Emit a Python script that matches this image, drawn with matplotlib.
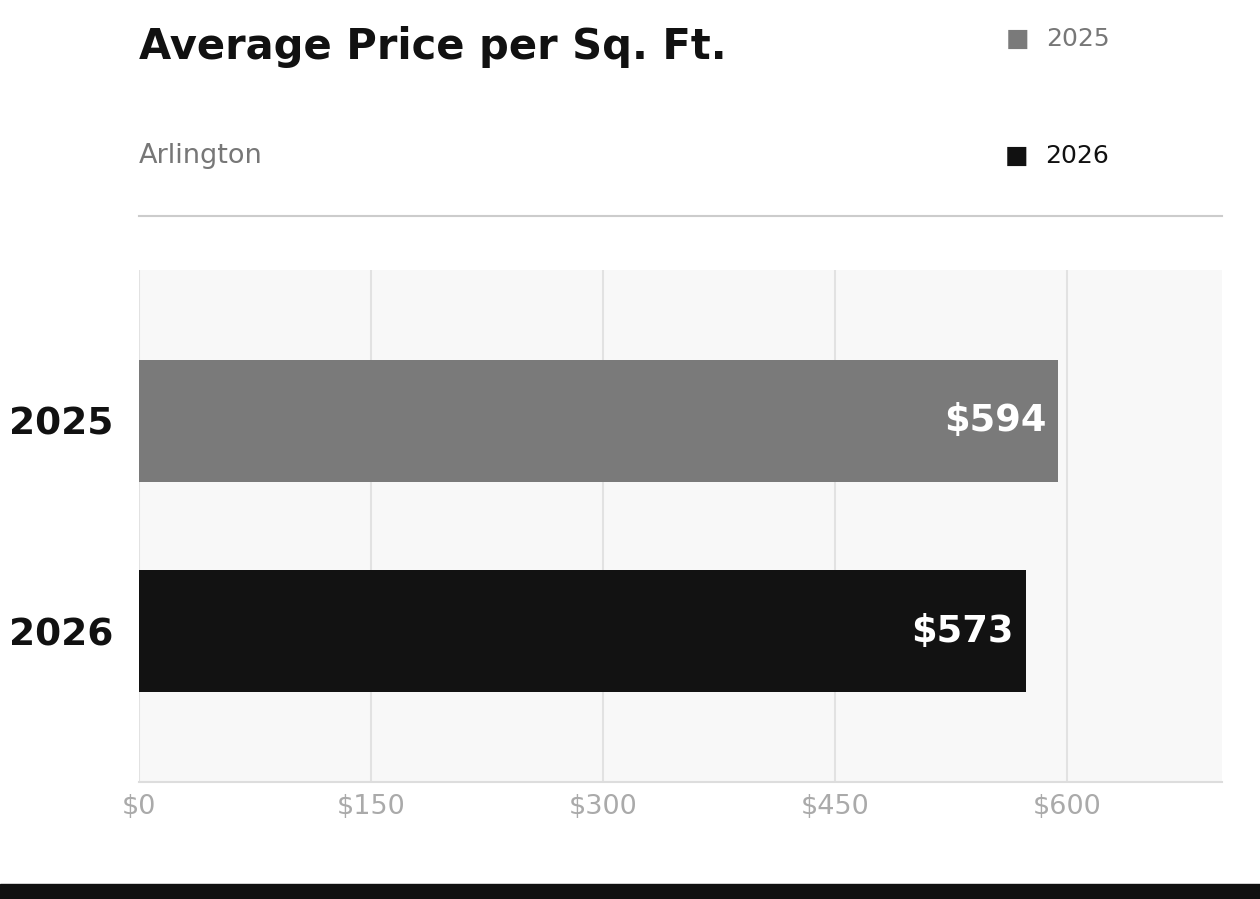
import matplotlib.pyplot as plt
from matplotlib.patches import Rectangle

years = ["2025", "2026"]
prices = [594, 573]
bar_colors = ["#7a7a7a", "#121212"]
xticks = [0, 150, 300, 450, 600]

W, H = 1260, 899
fig = plt.figure(figsize=(W / 100, H / 100), dpi=100)

ax = fig.add_axes([139 / W, 1 - 782 / H, (1222 - 139) / W, (782 - 270) / H])
ax.set_facecolor("#f8f8f8")

ypos = list(range(len(years)))
ax.barh(ypos, prices, height=0.58, color=bar_colors, zorder=3)
for y, v in zip(ypos, prices):
    ax.annotate(f"${v}", (v, y), xytext=(-8.5, 0), textcoords="offset points",
                ha="right", va="center", color="white",
                fontsize=26.5, fontweight="bold", zorder=4)

ax.set_xlim(0, 700)
ax.set_ylim(1.719, -0.719)
ax.set_yticks(ypos)
ax.set_yticklabels(years, fontsize=27, fontweight="bold", color="#111111")
ax.set_xticks(xticks)
ax.set_xticklabels([f"${t}" for t in xticks], fontsize=19.5, color="#aaaaaa")
ax.tick_params(axis="both", length=0)
ax.tick_params(axis="y", pad=18.5)
ax.tick_params(axis="x", pad=9)
ax.grid(axis="x", color="#e2e2e2", linewidth=1.5, zorder=1)
for s in ["top", "right", "left"]:
    ax.spines[s].set_visible(False)
ax.spines["bottom"].set_color("#dddddd")
ax.spines["bottom"].set_linewidth(1.5)

# header
fig.text(139 / W, 1 - 47 / H, "Average Price per Sq. Ft.", fontsize=30,
         fontweight="bold", color="#111111", va="center")
fig.text(139 / W, 1 - 156 / H, "Arlington", fontsize=19.5, color="#777777",
         va="center")
fig.text(1006 / W, 1 - 39 / H, "■", fontsize=18, color="#7a7a7a", va="center")
fig.text(1046 / W, 1 - 39 / H, "2025", fontsize=18, color="#777777", va="center")
fig.text(1005 / W, 1 - 156 / H, "■", fontsize=18, color="#111111", va="center")
fig.text(1045 / W, 1 - 156 / H, "2026", fontsize=18, color="#111111", va="center")
fig.add_artist(plt.Line2D([139 / W, 1222 / W], [1 - 216 / H, 1 - 216 / H],
                          color="#cccccc", linewidth=1.5))

# bottom strip
fig.add_artist(Rectangle((0, 0), 1, 15 / H, transform=fig.transFigure,
                         color="#111111"))

fig.savefig("out.png", dpi=100)
